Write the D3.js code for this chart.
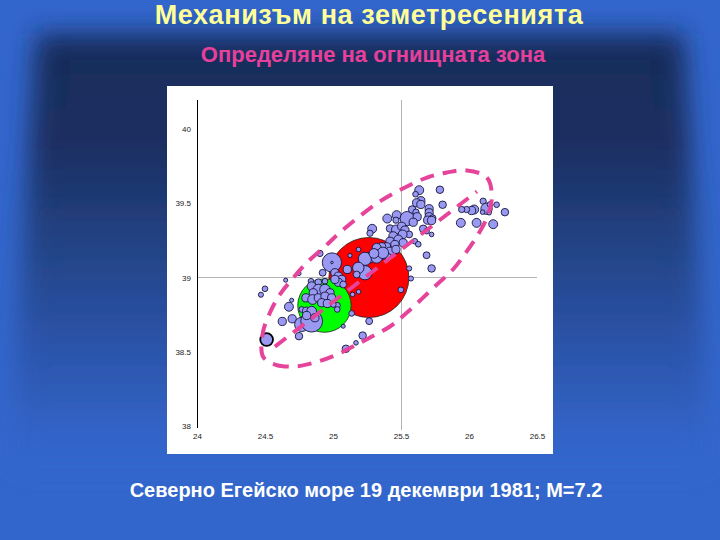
<!DOCTYPE html>
<html>
<head>
<meta charset="utf-8">
<style>
html, body { margin: 0; padding: 0; background: #3366cc; }
svg { display: block; }
text { font-family: "Liberation Sans", Arial, sans-serif; }
</style>
<script src="https://cdn.jsdelivr.net/npm/d3@7"></script>
</head>
<body>
<div id="wrapper"></div>
<script>
//Titles
const titleText = "Механизъм на земетресенията";
const subtitleText = "Определяне на огнищната зона";
const captionText = "Северно Егейско море 19 декември 1981; М=7.2";

//Tick labels
const lonTicks = [24, 24.5, 25, 25.5, 26, 26.5];
const latTicks = [38, 38.5, 39, 39.5, 40];

//Main shocks: [lon, lat, magnitude]
const redShock = [25.264, 39.0, 7.2];
const greenShock = [24.937, 38.811, 6.2];

//Aftershocks: [lon, lat, magnitude]
const eastEvents = [
    [25.634,39.588,3.2],[25.607,39.561,2.7],[25.786,39.591,3.0],[25.646,39.517,3.1],[25.615,39.503,3.1],
    [25.646,39.492,3.1],[25.806,39.49,3.0],[25.707,39.463,3.1],[25.707,39.436,3.1],[25.707,39.409,3.1],
    [25.732,39.399,2.9],[25.696,39.386,3.1],[25.725,39.384,3.1],[25.94,39.368,3.2],[26.056,39.368,3.2],
    [26.178,39.359,3.2],[26.264,39.44,3.0],[26.203,39.49,2.7],[26.104,39.514,2.8],[26.129,39.463,3.5],
    [26.154,39.492,2.7],[26.1,39.44,2.5],[26.148,39.436,2.5],[26.038,39.458,3.2],[26.019,39.451,3.1],
    [25.982,39.458,2.8],[25.946,39.458,2.8],[25.663,39.328,3.0],[25.688,39.312,2.7],[25.725,39.29,2.5],
    [25.602,39.244,2.7],[25.627,39.224,2.7],[25.688,39.15,2.9],[25.725,39.061,3.0],[25.56,39.061,2.6],
    [25.573,38.993,2.6]
];
const chainEvents = [
    [25.399,39.397,3.2],[25.468,39.42,3.2],[25.463,39.386,2.8],[25.546,39.397,3.8],[25.582,39.458,3.0],
    [25.61,39.44,2.8],[25.619,39.409,3.1],[25.59,39.372,3.1],[25.288,39.328,3.2],[25.272,39.298,2.8],
    [25.419,39.33,3.0],[25.463,39.323,3.2],[25.505,39.345,3.1],[25.529,39.319,3.1],[25.56,39.29,2.9],
    [25.443,39.278,3.2],[25.512,39.29,3.2],[25.48,39.256,3.2],[25.419,39.244,3.1],[25.516,39.234,3.1],
    [25.455,39.222,3.1],[25.394,39.207,3.1],[25.358,39.207,3.1],[25.321,39.2,3.2],[25.358,39.155,3.4],
    [25.308,39.155,3.4],[25.419,39.177,3.1],[25.463,39.189,3.1],[25.272,39.133,3.4],[25.406,39.139,2.9],
    [25.235,39.126,3.7],[25.235,39.032,3.8],[25.186,39.065,3.5],[25.174,39.02,2.9],[25.105,39.054,3.1],
    [25.125,39.148,2.4],[25.188,39.189,2.5],[25.321,39.135,3.5],[25.367,39.166,3.5],[25.301,39.162,3.3],
    [25.499,38.917,2.7],[25.188,38.904,2.5],[25.144,38.886,2.5],[25.266,38.706,2.9],[25.137,38.758,2.7],
    [25.075,38.672,2.4],[25.218,38.609,3.0],[25.169,38.56,2.5],[25.095,38.52,3.0]
];
const westEvents = [
    [24.992,39.101,4.25],[24.992,39.101,2.0],[24.904,39.162,2.8],[24.75,39.027,2.4],[24.652,38.982,2.4],
    [24.5,38.924,2.7],[24.47,38.884,2.6],[24.676,38.803,3.2],[24.696,38.847,2.4],[24.627,38.704,3.1],
    [24.7,38.722,3.1],[24.75,38.605,3.0],[24.77,38.684,3.8],[24.843,38.706,4.45],[24.924,39.032,2.9],
    [25.014,39.032,3.1],[25.039,39.009,3.1],[25.064,38.987,3.1],[25.039,38.968,3.1],[25.014,38.987,3.1],
    [25.075,38.953,2.9],[24.892,38.968,2.9],[24.941,38.975,2.7],[24.838,38.975,2.7],[24.843,38.941,3.2],
    [24.892,38.919,3.4],[24.941,38.919,3.4],[24.978,38.897,3.1],[24.855,38.897,3.1],[24.801,38.863,3.1],
    [24.85,38.852,3.3],[24.892,38.863,3.1],[24.941,38.874,3.1],[24.99,38.863,3.1],[24.917,38.83,3.1],
    [24.958,38.825,3.1],[25.031,38.811,2.8],[25.002,38.818,2.7],[25.031,38.785,2.7],[24.77,38.785,2.7],
    [24.806,38.773,3.1],[24.843,38.773,3.3],[24.867,38.729,3.1],[24.806,38.744,3.1]
];
//The one with the thick black ring, lower left
const ringEvent = [24.512, 38.582, 3.65];

//Dashed outline of the source zone and its long axis: [lon, lat]
const zoneOutline = [
    [24.485,38.468],[24.573,38.414],[24.72,38.401],[24.867,38.428],[25.014,38.475],[25.147,38.535],
    [25.286,38.603],[25.419,38.67],[25.544,38.764],[25.764,38.953],[25.882,39.054],[25.977,39.168],
    [26.058,39.276],[26.132,39.404],[26.168,39.539],[26.132,39.673],[25.985,39.721],[25.838,39.707],
    [25.691,39.673],[25.544,39.613],[25.404,39.545],[25.279,39.471],[25.051,39.303],[24.941,39.209],
    [24.809,39.101],[24.698,38.987],[24.61,38.886],[24.537,38.764],[24.485,38.63]
];
const zoneAxis = [[24.573,38.535],[26.058,39.579]];

const width = 720;
const height = 540;

const svg = d3.select("#wrapper").append("svg")
    .attr("width", width)
    .attr("height", height);

const defs = svg.append("defs");

//Slide background: dark panel fading to blue downwards, with soft edges
const fade = defs.append("linearGradient")
    .attr("id", "fade")
    .attr("gradientUnits", "userSpaceOnUse")
    .attr("x1", 0).attr("y1", 40)
    .attr("x2", 0).attr("y2", 450);
fade.append("stop").attr("offset", "0").attr("stop-color", "#192c5a");
fade.append("stop").attr("offset", "0.25").attr("stop-color", "#1a2e60");
fade.append("stop").attr("offset", "0.5").attr("stop-color", "#234384");
fade.append("stop").attr("offset", "0.72").attr("stop-color", "#2a52a6");
fade.append("stop").attr("offset", "1").attr("stop-color", "#3366cc");

defs.append("filter")
    .attr("id", "soft")
    .attr("x", "-15%").attr("y", "-15%")
    .attr("width", "130%").attr("height", "130%")
    .append("feGaussianBlur")
    .attr("stdDeviation", 13);

svg.append("rect")
    .attr("width", width)
    .attr("height", height)
    .attr("fill", "#3366cc");

svg.append("polygon")
    .attr("points", "36,34 684,34 710,470 10,470")
    .attr("fill", "url(#fade)")
    .attr("filter", "url(#soft)");

//White chart panel
svg.append("rect")
    .attr("x", 167).attr("y", 86)
    .attr("width", 386).attr("height", 368)
    .attr("fill", "#ffffff");

//Scales
const xScaler = d3.scaleLinear().domain([24, 26.5]).range([197, 537]);
const yScaler = d3.scaleLinear().domain([38, 40]).range([426, 129]);
const rScaler = d3.scalePow().exponent(2.7).domain([0, 7.2]).range([0, 40]);

const chart = svg.append("g");

//Grey cross through 25.5 / 39
chart.append("line")
    .attr("x1", xScaler(25.5)).attr("x2", xScaler(25.5))
    .attr("y1", yScaler(40.197)).attr("y2", yScaler(37.97))
    .attr("stroke", "#b4b4b4").attr("stroke-width", 1).attr("shape-rendering", "crispEdges");
chart.append("line")
    .attr("x1", xScaler(24)).attr("x2", xScaler(26.5))
    .attr("y1", yScaler(39)).attr("y2", yScaler(39))
    .attr("stroke", "#b4b4b4").attr("stroke-width", 1).attr("shape-rendering", "crispEdges");

//Black vertical axis line
chart.append("line")
    .attr("x1", xScaler(24)).attr("x2", xScaler(24))
    .attr("y1", yScaler(40.197)).attr("y2", yScaler(37.987))
    .attr("stroke", "#000000").attr("stroke-width", 1).attr("shape-rendering", "crispEdges");

//Axes, only their labels are visible
const xAxis = chart.append("g")
    .attr("transform", `translate(0, ${yScaler(37.985)})`)
    .call(d3.axisBottom(xScaler).tickValues(lonTicks).tickSize(0).tickPadding(5).tickFormat(d => d));
const yAxis = chart.append("g")
    .attr("transform", `translate(${xScaler(24)}, 0)`)
    .call(d3.axisLeft(yScaler).tickValues(latTicks).tickSize(0).tickPadding(6).tickFormat(d => d));
xAxis.select(".domain").remove();
yAxis.select(".domain").remove();
chart.selectAll(".tick text")
    .style("font-family", "'Liberation Sans', Arial, sans-serif")
    .style("font-size", "8px")
    .attr("fill", "#222222");

//Main shocks
chart.selectAll("circle.main")
    .data([redShock, greenShock])
    .join("circle")
    .attr("class", "main")
    .attr("cx", d => xScaler(d[0]))
    .attr("cy", d => yScaler(d[1]))
    .attr("r", d => rScaler(d[2]))
    .attr("fill", (d, i) => i == 0 ? "#ff0000" : "#00ff00")
    .attr("stroke", "#202020")
    .attr("stroke-width", 0.8);

//Aftershocks
chart.selectAll("circle.event")
    .data(westEvents.concat(chainEvents, eastEvents))
    .join("circle")
    .attr("class", "event")
    .attr("cx", d => xScaler(d[0]))
    .attr("cy", d => yScaler(d[1]))
    .attr("r", d => rScaler(d[2]))
    .attr("fill", "#9999f2")
    .attr("stroke", "#14143c")
    .attr("stroke-width", 0.9);

chart.append("circle")
    .attr("cx", xScaler(ringEvent[0]))
    .attr("cy", yScaler(ringEvent[1]))
    .attr("r", rScaler(ringEvent[2]))
    .attr("fill", "#9999f2")
    .attr("stroke", "#000000")
    .attr("stroke-width", 1.8);

//Source zone drawn on top
const zoneLine = d3.line()
    .x(d => xScaler(d[0]))
    .y(d => yScaler(d[1]));

chart.append("path")
    .attr("d", zoneLine.curve(d3.curveCatmullRomClosed)(zoneOutline))
    .attr("fill", "none")
    .attr("stroke", "#e6449b")
    .attr("stroke-width", 4)
    .attr("stroke-dasharray", "14 9");

chart.append("path")
    .attr("d", zoneLine.curve(d3.curveLinear)(zoneAxis))
    .attr("fill", "none")
    .attr("stroke", "#e6449b")
    .attr("stroke-width", 4)
    .attr("stroke-dasharray", "14 9");

//Texts
svg.append("text")
    .attr("x", 369).attr("y", 24)
    .attr("text-anchor", "middle")
    .attr("font-size", 27)
    .attr("letter-spacing", 0.6)
    .attr("font-weight", "bold")
    .attr("fill", "#ffff99")
    .text(titleText);

svg.append("text")
    .attr("x", 373).attr("y", 62)
    .attr("text-anchor", "middle")
    .attr("font-size", 22)
    .attr("font-weight", "bold")
    .attr("fill", "#e6409b")
    .text(subtitleText);

svg.append("text")
    .attr("x", 366).attr("y", 497)
    .attr("text-anchor", "middle")
    .attr("font-size", 20)
    .attr("font-weight", "bold")
    .attr("fill", "#ffffff")
    .text(captionText);
</script>
</body>
</html>
